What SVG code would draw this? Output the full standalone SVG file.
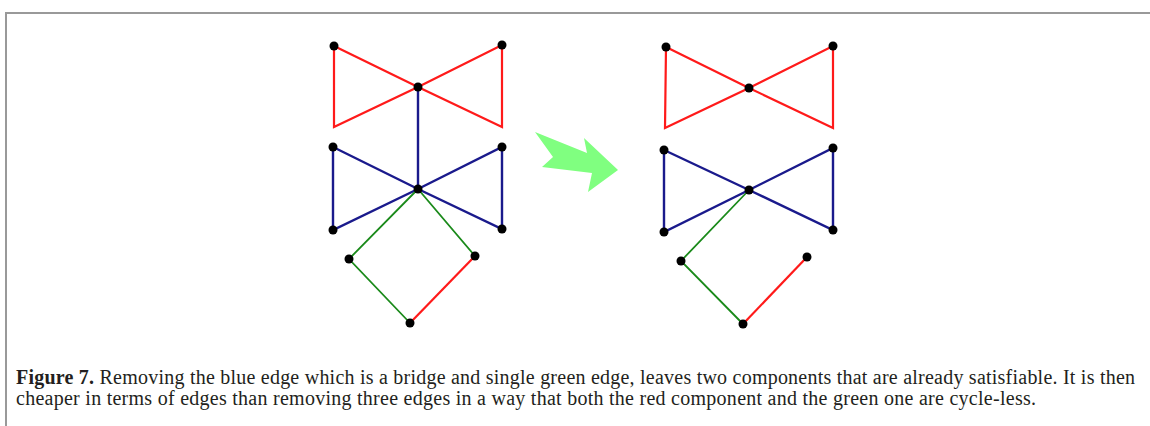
<svg xmlns="http://www.w3.org/2000/svg" width="1150" height="426" viewBox="0 0 1150 426">
<style>
.red{stroke:#ff1a1a;stroke-width:2.2;fill:none}
.blue{stroke:#1a1a8c;stroke-width:2.4;fill:none}
.green{stroke:#1a8a1a;stroke-width:1.8;fill:none}
.dot{fill:#000}
.cap{font-family:"Liberation Serif",serif;font-size:20px;fill:#231f20}
</style>
<rect width="1150" height="426" fill="#fff"/>
<path d="M6,426 V13 H1150" stroke="#999" stroke-width="2" fill="none"/>
<g id="connectors">
<path class="red" d="M334,46 L418,87 L502,127 L502,45 L418,87 L334,127 Z"/>
<path class="blue" d="M418,87 V189 M333,147 L418,189 L502,229 L502,147 L418,189 L333,230 Z"/>
<path class="green" d="M418,189 L349,259 L410,323 M418,189 L475,256"/>
<path class="red" d="M475,256 L410,323"/>
<path class="red" d="M666,47 L749,88 L833,128 L833,46 L749,88 L665,128 Z"/>
<path class="blue" d="M664,150 L749,190 L833,230 L833,148 L749,190 L664,232 Z"/>
<path class="green" d="M749,190 L681,261 L743,324"/>
<path class="red" d="M743,324 L807,257"/>
</g>
<g id="arrow"><polygon points="535,132 587,153 584,138 618,170 588,192 592,173 542,167 553,157" fill="#80ff80"/></g>
<g id="left-graph">
<circle class="dot" cx="334" cy="46" r="4.5"/><circle class="dot" cx="502" cy="45" r="4.5"/><circle class="dot" cx="418" cy="87" r="4.5"/>
<circle class="dot" cx="333" cy="147" r="4.5"/><circle class="dot" cx="502" cy="147" r="4.5"/><circle class="dot" cx="418" cy="189" r="4.5"/>
<circle class="dot" cx="333" cy="230" r="4.5"/><circle class="dot" cx="502" cy="229" r="4.5"/>
<circle class="dot" cx="349" cy="259" r="4.5"/><circle class="dot" cx="475" cy="256" r="4.5"/><circle class="dot" cx="410" cy="323" r="4.5"/>
</g>
<g id="right-graph">
<circle class="dot" cx="666" cy="47" r="4.5"/><circle class="dot" cx="833" cy="46" r="4.5"/><circle class="dot" cx="749" cy="88" r="4.5"/>
<circle class="dot" cx="664" cy="150" r="4.5"/><circle class="dot" cx="833" cy="148" r="4.5"/><circle class="dot" cx="749" cy="190" r="4.5"/>
<circle class="dot" cx="664" cy="232" r="4.5"/><circle class="dot" cx="833" cy="230" r="4.5"/>
<circle class="dot" cx="681" cy="261" r="4.5"/><circle class="dot" cx="807" cy="257" r="4.5"/><circle class="dot" cx="743" cy="324" r="4.5"/>
</g>
<g id="caption">
<text class="cap" x="16" y="384" textLength="1119" lengthAdjust="spacing"><tspan font-weight="bold">Figure 7.</tspan> Removing the blue edge which is a bridge and single green edge, leaves two components that are already satisfiable. It is then</text>
<text class="cap" x="16" y="405" textLength="1020" lengthAdjust="spacing">cheaper in terms of edges than removing three edges in a way that both the red component and the green one are cycle-less.</text>
</g>
</svg>
